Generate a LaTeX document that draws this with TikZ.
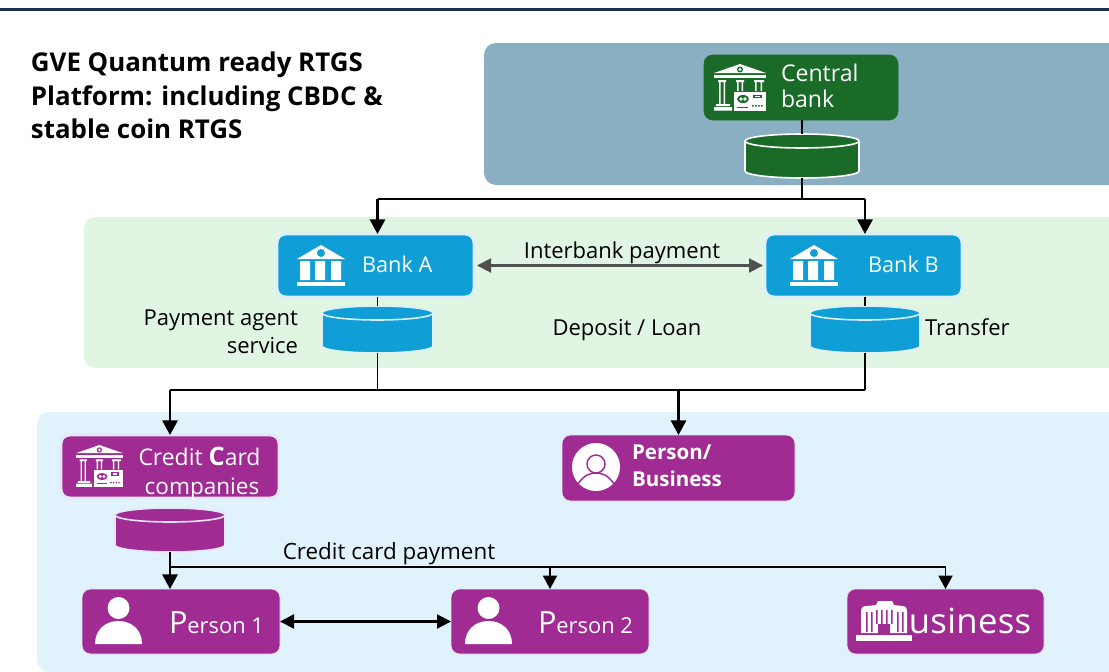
\documentclass[tikz,border=0pt]{standalone}
\usepackage{fontspec}
\setmainfont{Open Sans}
\usetikzlibrary{arrows.meta}
\definecolor{navy}{HTML}{1B2F4B}
\definecolor{panelA}{HTML}{8BAFC2}
\definecolor{panelB}{HTML}{E0F5E2}
\definecolor{panelC}{HTML}{E0F3FC}
\definecolor{cgreen}{HTML}{1A6A28}
\definecolor{cblue}{HTML}{0F9ED5}
\definecolor{cpurple}{HTML}{A02B93}
\definecolor{edgeB}{HTML}{DCEFFA}
\definecolor{edgeP}{HTML}{E6E6FA}
\definecolor{darkgrey}{HTML}{505050}
\newcommand{\fs}[1]{\fontsize{#1}{#1}\selectfont}
\tikzset{
  panel/.style={rectangle,rounded corners=9pt,inner sep=0pt,outer sep=0pt},
  card/.style={rectangle,rounded corners=6.5pt,inner sep=0pt,outer sep=0pt,draw=#1},
  lbl/.style={inner sep=0pt,outer sep=0pt,text=black,font=\fs{16.5}},
  wlbl/.style={inner sep=0pt,outer sep=0pt,text=white,font=\fs{17.3},align=left},
  ttl/.style={inner sep=0pt,outer sep=0pt,text=black,anchor=base west,font=\fs{19.4}\bfseries},
  wire/.style={draw=black,line width=0.85pt},
  tipwire/.style={draw=black,line width=1.6pt,-{Triangle[length=11pt,width=11.5pt]}},
  midwire/.style={draw=black,line width=1.2pt,-{Triangle[length=10pt,width=10.5pt]}},
  both/.style={draw=black,line width=1.7pt,{Triangle[length=10.5pt,width=10.5pt]}-{Triangle[length=10.5pt,width=10.5pt]}},
  greyboth/.style={draw=darkgrey,line width=1.6pt,{Triangle[length=10.5pt,width=10.5pt]}-{Triangle[length=10.5pt,width=10.5pt]}},
}
% box from pixel corners
\newcommand{\pxbox}[6]{\node[#2,minimum width={(#5-#3)*0.75pt},minimum height={(#6-#4)*0.75pt}] (#1) at ({(#3+#5)/2},{(#4+#6)/2}) {};}
% cylinder: name, fill, edge, x1, y1, x2, y2, ry
\newcommand{\dbcyl}[8]{%
  \pxbox{#1}{inner sep=0pt,outer sep=0pt}{#4}{#5}{#6}{#7}
  \path[fill=#2,draw=#3,line width=1.2pt,line join=round]
    (#4,#5+#8) arc[start angle=180,end angle=360,x radius={(#6-#4)/2},y radius=#8,delta angle=-180]
    -- (#6,#7-#8) arc[start angle=0,delta angle=180,x radius={(#6-#4)/2},y radius=#8] -- cycle;
  \path[draw=#3,line width=1.2pt] (#4,#5+#8) arc[start angle=180,delta angle=-180,x radius={(#6-#4)/2},y radius=#8];
}
% plain bank icon, box 48x41
\newcommand{\bankicon}[3]{%
  \begin{scope}[shift={(#1,#2)}]
    \fill[white] (0,14) -- (24,0) -- (48,14) -- cycle;
    \fill[#3] (24,8) circle[radius=4];
    \fill[white] (3,16) rectangle (13,35) (18,16) rectangle (28,35) (34,16) rectangle (44,35);
    \fill[white] (0,37) rectangle (48,41);
  \end{scope}}
% bank + credit card icon, box 52x47
\newcommand{\cardicon}[4]{%
  \begin{scope}[shift={(#1,#2)},scale=#3]
    \fill[white] (0,9) -- (26,0) -- (52,9) -- cycle;
    \fill[#4] (26,5.5) circle[radius=3];
    \fill[white] (26,5.5) circle[radius=1.6];
    \fill[white] (0,11) rectangle (52,14);
    \fill[white] (4,16) rectangle (12,18) (5,18) rectangle (6.5,40) (9.5,18) rectangle (11,40);
    \fill[white] (2,40) rectangle (16,42) (0,43) rectangle (18,46.5);
    \fill[white] (22,16) rectangle (30,18) (23,18) rectangle (24.5,27) (27.5,18) rectangle (29,27);
    \fill[white] (40,16) rectangle (50,18) (41,18) rectangle (42.5,27) (46.5,18) rectangle (48,27);
    \fill[white] (20,28) rectangle (52,46.5);
    \fill[#4] (29,35) ellipse[x radius=6,y radius=4];
    \fill[white] (27,35) circle[radius=1.8] (31,35) circle[radius=1.8];
    \fill[#4] (39,30.5) rectangle (48,34);
    \fill[white] (41,31.5) rectangle (46,33);
    \fill[#4] (38,41) rectangle (39.5,42.5) (41,41) rectangle (42.5,42.5) (44,41) rectangle (45.5,42.5) (47,41) rectangle (48.5,42.5);
    \fill[#4] (23,42.5) rectangle (34,43.5);
  \end{scope}}
% person icon, box 47x47
\newcommand{\personicon}[2]{%
  \begin{scope}[shift={(#1,#2)}]
    \fill[white] (23.5,11) circle[radius=11];
    \fill[white] (0,47) .. controls (0,33) and (10,24) .. (23.5,24) .. controls (37,24) and (47,33) .. (47,47) -- cycle;
  \end{scope}}
\begin{document}
\begin{tikzpicture}[x=0.75pt,y=0.75pt,yscale=-1]
\useasboundingbox (0,0) rectangle (1109,671);
\fill[white] (0,0) rectangle (1109,671);
\fill[navy] (0,8) rectangle (1109,10.5);

% panels
\pxbox{pa}{panel,fill=panelA}{484}{43}{1135}{185}
\pxbox{pb}{panel,fill=panelB}{84}{217}{1135}{368}
\pxbox{pc}{panel,fill=panelC}{37}{412}{1135}{672}

% title
\node[ttl] (title1) at (31,71) {GVE Quantum ready RTGS};
\node[ttl] (title2) at (31,105) {Platform: including CBDC \&};
\node[ttl] (title3) at (31,138) {stable coin RTGS};

% cards
\pxbox{cb}{card=cgreen,fill=cgreen,line width=0.4pt}{704}{55}{898}{120}
\pxbox{ba}{card=edgeB,fill=cblue,line width=2.2pt}{277}{234}{474}{297}
\pxbox{bb}{card=edgeB,fill=cblue,line width=2.2pt}{765}{234}{962}{297}
\pxbox{cc}{card=edgeP,fill=cpurple,line width=2.2pt}{61}{435}{279}{498}
\pxbox{pbz}{card=edgeP,fill=cpurple,line width=0.5pt}{562}{435}{795}{501}
\pxbox{p1}{card=edgeP,fill=cpurple,line width=0.5pt}{82}{589}{280}{654}
\pxbox{p2}{card=edgeP,fill=cpurple,line width=0.5pt}{451}{589}{649}{654}
\pxbox{bz}{card=edgeP,fill=cpurple,line width=0.5pt}{847}{589}{1044}{654}

% cylinders
\dbcyl{dc}{cgreen}{white}{745}{134}{859}{178}{7}
\dbcyl{da}{cblue}{edgeB}{322}{306}{433}{353}{7}
\dbcyl{db}{cblue}{edgeB}{810}{306}{920}{353}{7}
\dbcyl{dk}{cpurple}{edgeP}{115}{508}{225}{552}{7}

% junctions
\coordinate (jc) at (dc.south |- 0,199);
\coordinate (ja) at (da.south |- 0,390);
\coordinate (jb) at (db.south |- 0,390);
\coordinate (jl) at (cc.north |- 0,390);
\coordinate (jm) at (pbz.north |- 0,390);
\coordinate (jk) at (dk.south |- 0,567);
\coordinate (jz) at (bz.north |- 0,567);
\coordinate (jp) at (p2.north |- 0,567);

% connectors
\draw[wire] (cb.south -| dc.north) -- (dc.north);
\draw[wire] (dc.south) -- (jc);
\draw[draw=black,line width=1.2pt] (da.north |- jc) -- (db.north |- jc);
\draw[tipwire] (da.north |- jc) -- (ba.north -| da.north);
\draw[tipwire] (db.north |- jc) -- (bb.north -| db.north);
\draw[wire] (ba.south -| da.north) -- (da.north);
\draw[wire] (bb.south -| db.north) -- (db.north);
\draw[wire] (da.south) -- (ja);
\draw[wire] (db.south) -- (jb);
\draw[wire] (jl) -- (jb);
\draw[tipwire] (jl) -- (cc.north);
\draw[tipwire] (jm) -- (pbz.north);
\draw[tipwire] (dk.south) -- (p1.north -| dk.south);
\draw[wire] (jk) -- (jz);
\draw[midwire] (jp) -- (p2.north);
\draw[midwire] (jz) -- (bz.north);
\draw[both] (p1.east) -- (p2.west);
\path (ba.east) ++(3,0) coordinate (ia) (bb.west) ++(-2,0) coordinate (ib);
\draw[greyboth] (ia) -- (ib);

% icons
\cardicon{714}{64}{1}{cgreen}
\bankicon{297}{245}{cblue}
\bankicon{790}{245}{cblue}
\cardicon{76}{445}{0.9}{cpurple}
\personicon{95}{597}
\personicon{465}{597}

% person/business circle icon
\fill[white] (596,467) circle[radius=24];
\draw[cpurple,line width=1.1pt] (596,464) circle[radius=9];
\draw[cpurple,line width=1.1pt] (578,484) .. controls (584,475) and (590,473) .. (596,473) .. controls (602,473) and (608,475) .. (614,484);

% labels in cards
\node[wlbl,anchor=base west] (tcb1) at (781,81) {Central};
\node[wlbl,anchor=base west] (tcb2) at (781,107) {bank};
\node[wlbl,anchor=base west,font=\fs{16.3}] (tba) at (362,272) {Bank A};
\node[wlbl,anchor=base west,font=\fs{16.3}] (tbb) at (868,272) {Bank B};
\node[wlbl,anchor=base,font=\fs{17.2}] (tcc1) at (199.5,465) {Credit {\fs{19}\bfseries C}ard};
\node[wlbl,anchor=base,font=\fs{16.9}] (tcc2) at (202,494) {companies};
\node[wlbl,anchor=base west,font=\fs{15.4}\bfseries] (tpb1) at (632,459) {Person/};
\node[wlbl,anchor=base west,font=\fs{15.4}\bfseries] (tpb2) at (632,486) {Business};
\node[wlbl,anchor=base west,font=\fs{16.4}] (tp1) at (169,633) {{\fs{23}P}erson 1};
\node[wlbl,anchor=base west,font=\fs{16.4}] (tp2) at (538,633) {{\fs{23}P}erson 2};
\node[wlbl,anchor=base west,font=\fs{26}] (tbz) at (886,633) {\addfontfeature{LetterSpace=1}Business};

% building icon over the text
\fill[white] (861,633) -- (861,612) .. controls (861,607) and (863,606) .. (867,606) -- (876,605) -- (878,601) -- (892,601) -- (894,605) -- (902,606) .. controls (906,606) and (907,608) .. (907,612) -- (907,633) -- cycle;
\fill[cpurple] (866,612) rectangle (867.5,632) (871,612) rectangle (872.5,632) (876,610) rectangle (877.5,624) (881,610) rectangle (882.5,624) (886,610) rectangle (887.5,624) (891,610) rectangle (892.5,624) (897,612) rectangle (898.5,632) (902,612) rectangle (903.5,632) (878,624) rectangle (890,634);
\fill[white] (856,635) rectangle (912,641);

% free labels
\node[lbl,anchor=base] (t1) at (622,258) {Interbank payment};
\node[lbl,anchor=base] (t2) at (627,335) {Deposit / Loan};
\node[lbl,anchor=base east,align=right] (t3) at (298,325) {Payment agent};
\node[lbl,anchor=base east] (t4) at (298,353) {service};
\node[lbl,anchor=base west] (t5) at (925,335) {Transfer};
\node[lbl,anchor=base,font=\fs{16.8}] (t6) at (389,559) {Credit card payment};
\end{tikzpicture}
\end{document}
